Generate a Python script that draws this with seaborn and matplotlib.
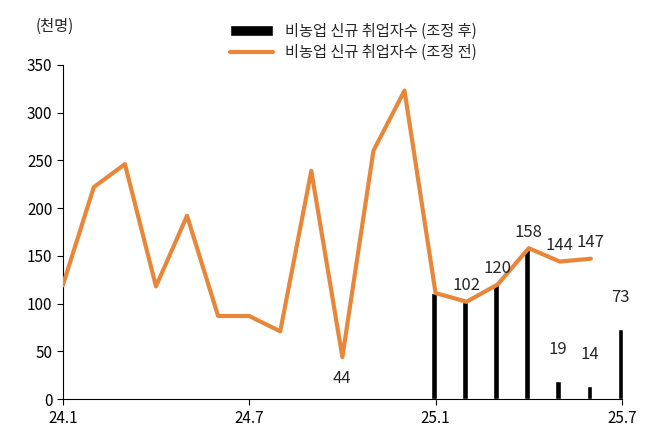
import numpy as np
import pandas as pd
import matplotlib
matplotlib.use("Agg")
import matplotlib.pyplot as plt
import seaborn as sns

months = ["24.1", "24.2", "24.3", "24.4", "24.5", "24.6", "24.7", "24.8", "24.9", "24.10",
          "24.11", "24.12", "25.1", "25.2", "25.3", "25.4", "25.5", "25.6", "25.7"]
before_adj = [119, 222, 246, 118, 192, 87, 87, 71, 239, 44, 260, 323, 111, 102, 120, 158, 144, 147]
after_adj_months = ["25.1", "25.2", "25.3", "25.4", "25.5", "25.6", "25.7"]
after_adj = [111, 102, 120, 158, 19, 14, 73]
tick_labels = ["24.1", "24.7", "25.1", "25.7"]

sns.set_style("white")
plt.rcParams['font.family'] = ['Noto Sans CJK KR', 'DejaVu Sans']

line_df = pd.DataFrame({"x": range(len(before_adj)), "v": before_adj})
bar_x = [months.index(m) - 0.05 for m in after_adj_months]

fig = plt.figure(figsize=(6.54, 4.41), dpi=100)
ax = fig.add_axes([0.096, 0.095, 0.855, 0.758])

bars = ax.bar(bar_x, after_adj, width=0.18, color="black", label="비농업 신규 취업자수 (조정 후)",
              zorder=2, clip_on=False)
sns.lineplot(data=line_df, x="x", y="v", ax=ax, color="#E8873A", linewidth=3,
             label="비농업 신규 취업자수 (조정 전)", zorder=3)

ax.set_xlim(0, 18)
ax.set_ylim(0, 350)
ax.set_yticks(range(0, 351, 50))
ax.set_xticks([months.index(t) for t in tick_labels])
ax.set_xticklabels(tick_labels)
ax.set_xlabel("")
ax.set_ylabel("")
ax.tick_params(axis="both", labelsize=11, length=4, direction="out", colors="black")
ax.tick_params(axis="x", bottom=True)
ax.tick_params(axis="y", left=True)
for s in ["top", "right"]:
    ax.spines[s].set_visible(False)
for s in ["left", "bottom"]:
    ax.spines[s].set_color("black")

fs = 12
ax.text(9, 44 - 14, "44", ha="center", va="top", fontsize=fs)
for m, v in zip(["25.2", "25.3", "25.4", "25.5", "25.6"], [102, 120, 158, 144, 147]):
    i = months.index(m)
    ax.text(i, before_adj[i] + 8, str(v), ha="center", va="bottom", fontsize=fs)
for m, v in zip(["25.5", "25.6", "25.7"], [19, 14, 73]):
    i = months.index(m)
    ax.text(i - 0.05, v + 24, str(v), ha="center", va="bottom", fontsize=fs)

fig.text(0.055, 0.94, "(천명)", fontsize=11, va="center")
handles, labels = ax.get_legend_handles_labels()
order = [labels.index("비농업 신규 취업자수 (조정 후)"), labels.index("비농업 신규 취업자수 (조정 전)")]
ax.legend([handles[i] for i in order], [labels[i] for i in order],
          loc="lower center", bbox_to_anchor=(0.52, 0.97), frameon=False, fontsize=11,
          handlelength=2.8, labelspacing=0.3)

fig.savefig("out.png", dpi=100)
